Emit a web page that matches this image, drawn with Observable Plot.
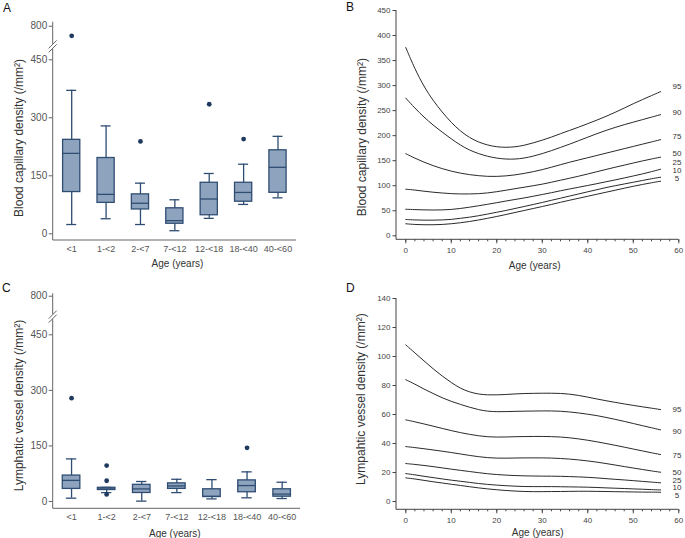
<!DOCTYPE html>
<html><head><meta charset="utf-8">
<script src="https://cdn.jsdelivr.net/npm/d3@7"></script>
<script src="https://cdn.jsdelivr.net/npm/@observablehq/plot@0.6"></script>
<style>
body{margin:0;background:#fff;}
#fig{position:relative;width:685px;height:538px;overflow:hidden;background:#fff;font-family:"Liberation Sans",Arial,sans-serif;}
#fig svg.p{position:absolute;}
.letter{position:absolute;font-size:12px;line-height:12px;color:#111;font-family:"Liberation Sans",Arial,sans-serif;}
</style></head><body>
<div id="fig">
  <div class="letter" style="left:3px;top:2px">A</div>
  <div class="letter" style="left:346px;top:1px">B</div>
  <div class="letter" style="left:2px;top:281.5px">C</div>
  <div class="letter" style="left:346px;top:282px">D</div>
</div>
<script>
// ---------- data ----------
const ageGroups = ["<1", "1-<2", "2-<7", "7-<12", "12-<18", "18-<40", "40-<60"];

// Panel A: blood capillary density box plots
const bloodLow    = [24, 39, 24, 8, 40, 76, 93];
const bloodQ1     = [108, 80, 63, 26, 48, 83, 106];
const bloodMedian = [208, 102, 79, 34, 90, 107, 172];
const bloodQ3     = [243, 196, 102, 66, 132, 132, 216];
const bloodHigh   = [371, 279, 131, 88, 156, 180, 252];
const bloodOutlierGroup = ["<1", "2-<7", "12-<18", "18-<40"];
const bloodOutlierValue = [700, 239, 335, 245];

// Panel C: lymphatic vessel density box plots
const lymphLow    = [9, 24, 1, 24, 7, 10, 8];
const lymphQ1     = [34, 31, 23, 34, 12, 25, 13];
const lymphMedian = [57, 34, 34, 42, 14, 43, 20];
const lymphQ3     = [70, 37, 45, 49, 33, 57, 33];
const lymphHigh   = [115, 38, 54, 60, 59, 80, 52];
const lymphOutlierGroup = ["<1", "1-<2", "1-<2", "1-<2", "18-<40"];
const lymphOutlierValue = [279, 97, 56, 19, 145];

const brokenTicks = [0, 150, 300, 450, 800];

// Panels B & D: percentile curves
const ages = [0,2,4,6,8,10,12,14,16,18,20,22,24,26,28,30,32,34,36,38,40,42,44,46,48,50,52,54,56];
const percentiles = ["95", "90", "75", "50", "25", "10", "5"];

const bloodP95 = [376,333,298,270,247,226,209,196,187,181,177.5,176.5,177.5,180.5,185.5,191,197,204,210.5,217,224,231,238.5,246.5,255,264,272,280,288];
const bloodP90 = [275,255,237,221,207,193.5,181,171,164,158.5,155,153,153,155,159,164,170,176.5,183,190,197,204,210.5,216.5,222,227,232,237,242];
const bloodP75 = [164,155,147,140,134,129,125,122,120,118.5,118.5,119.5,121.5,124.5,128,132,137,142,147,151.5,156,160.5,165,169.5,174,178.5,183,187.5,192];
const bloodP50 = [93,91.5,89,87,85.5,84,83.5,83.5,84,85.5,88,91,94,97,100,103,107,111,115,119,123.5,128,132.5,137,141,145.5,149.5,153.5,157];
const bloodP25 = [53,52.3,51.7,51.4,51.6,52.5,54.5,57,60,63,66,69.5,72.5,75.5,79,82.5,86,90,93.5,97,100.5,104,108,111.5,115.5,119.5,123.5,128,133];
const bloodP10 = [32.6,31.6,31.2,31.2,31.6,32.5,35,37,40,43.5,47,50.5,54.5,58.5,62.5,66.5,71,75,79.5,83.5,88,92,96.5,100,103.5,107,110.5,114,117];
const bloodP5  = [24,22.5,22,22,22.5,24,26,28.5,31.5,35,38.5,42.5,46.5,50.5,54.5,58.5,62.5,67,71,75,79,83,87,91,95,99,102.5,106,109];
const bloodLabelAt = [299, 247, 199, 164, 146, 131, 115];

const lymphP95 = [108,102.5,97,91.5,86.5,82,78,75.5,74,73.5,73.5,73.8,74.2,74.5,74.6,74.7,74.7,74.6,74.1,73.2,72,70.7,69.5,68.4,67.3,66.3,65.3,64.4,63.4];
const lymphP90 = [84,81,77.5,74.5,71.5,69,67,65,63.3,62.2,61.9,62,62.2,62.3,62.4,62.5,62.5,62.3,61.8,61.1,60.2,59.3,58,56.7,55.3,53.8,52.3,50.9,49.4];
const lymphP75 = [56.3,55,53.5,52,50.4,48.9,47.5,46.3,45.3,44.6,44.4,44.5,44.7,44.8,44.9,44.9,44.8,44.5,44,43.2,42.3,41.2,40,38.8,37.5,36.2,34.9,33.6,32.4];
const lymphP50 = [37.9,37.2,36.4,35.6,34.7,33.8,32.8,31.8,30.9,30.2,29.9,29.9,30,30.1,30.1,30.1,30,29.7,29.3,28.7,28,27.2,26.2,25.2,24.1,23.1,22.1,21.1,20.2];
const lymphP25 = [26.2,25.6,24.9,24.1,23.2,22.3,21.5,20.7,19.9,19.1,18.6,18.2,17.9,17.7,17.6,17.5,17.5,17.4,17.2,17,16.7,16.3,15.8,15.3,14.9,14.4,13.9,13.4,12.9];
const lymphP10 = [19.3,18.4,17.4,16.5,15.6,14.7,14,13.2,12.4,11.8,11.3,10.9,10.6,10.3,10.3,10.3,10.3,10.2,10.1,10,9.9,9.7,9.4,9.2,9,8.7,8.5,8.2,8];
const lymphP5  = [16.3,15.6,14.6,13.6,12.8,11.9,11.1,10.2,9.4,8.7,8.1,7.6,7.2,6.9,6.8,6.8,6.9,6.9,7,7.1,7.1,7,6.9,6.8,6.7,6.6,6.5,6.5,6.4];
const lymphLabelAt = [63.2, 48.5, 31.7, 20.2, 14.5, 9.9, 4.3];

// ---------- styles ----------
const FONT = '"Liberation Sans", Arial, sans-serif';
const BOX_FILL = "#8ea3bd", BOX_STROKE = "#2f4d73", DOT = "#1e3a5f";
const AXIS = "#666", TICKTEXT = "#555", TITLE = "#333";

function frameLines(color) {
  return (index, scales, values, d) => {
    const g = d3.create("svg:g");
    g.append("path")
      .attr("d", `M${d.marginLeft},${d.marginTop}V${d.height - d.marginBottom}H${d.width - d.marginRight}`)
      .attr("fill", "none").attr("stroke", color).attr("stroke-width", 1);
    return g.node();
  };
}
function breakMark(v) {
  return (index, scales, values, d) => {
    const x = d.marginLeft, y = scales.y(v);
    const g = d3.create("svg:g");
    g.append("rect").attr("x", x - 2).attr("y", y - 2.5).attr("width", 4).attr("height", 5).attr("fill", "#fff");
    for (const o of [-2, 2]) {
      g.append("line").attr("x1", x - 4).attr("y1", y + o + 4).attr("x2", x + 4).attr("y2", y + o - 4)
        .attr("stroke", AXIS).attr("stroke-width", 1);
    }
    return g.node();
  };
}
function titles(cfg) {
  return [
    Plot.text([cfg.ylabel], {text: d => d, frameAnchor: "left", textAnchor: "middle", lineAnchor: "middle",
      rotate: -90, dx: cfg.ylDx, dy: cfg.ylDy, fontSize: 12, fill: TITLE}),
    Plot.text(["Age (years)"], {text: d => d, frameAnchor: "bottom", textAnchor: "middle", lineAnchor: "middle",
      dx: cfg.xlDx, dy: cfg.xlDy, fontSize: 10, fill: TITLE})
  ];
}

function boxPanel(cfg) {
  const rows = ageGroups.map((g, i) => ({group: g, low: cfg.low[i], q1: cfg.q1[i], med: cfg.med[i], q3: cfg.q3[i], high: cfg.high[i]}));
  const outs = cfg.outG.map((g, i) => ({group: g, value: cfg.outV[i]}));
  const capInset = 3.6;
  return Plot.plot({
    width: cfg.width, height: cfg.height,
    marginLeft: cfg.mL, marginRight: cfg.mR, marginTop: cfg.mT, marginBottom: cfg.mB,
    style: {fontFamily: FONT, background: "transparent", overflow: "visible"},
    x: {type: "band", domain: ageGroups, paddingInner: 0.5, paddingOuter: cfg.padOuter, round: false},
    y: {type: "linear", domain: cfg.yDomain, range: cfg.yRange},
    marks: [
      Plot.ruleX(rows, {x: "group", y1: "low", y2: "high", stroke: BOX_STROKE, strokeWidth: 1.3}),
      Plot.tickY(rows, {x: "group", y: "low", stroke: BOX_STROKE, strokeWidth: 1.3, insetLeft: capInset, insetRight: capInset}),
      Plot.tickY(rows, {x: "group", y: "high", stroke: BOX_STROKE, strokeWidth: 1.3, insetLeft: capInset, insetRight: capInset}),
      Plot.barY(rows, {x: "group", y1: "q1", y2: "q3", fill: BOX_FILL, stroke: BOX_STROKE, strokeWidth: 1.3}),
      Plot.tickY(rows, {x: "group", y: "med", stroke: BOX_STROKE, strokeWidth: 1.3}),
      Plot.dot(outs, {x: "group", y: "value", r: 2.4, fill: DOT, stroke: null}),
      frameLines(AXIS),
      breakMark(cfg.breakAt),
      Plot.axisY(brokenTicks, {tickSize: 4, tickPadding: 2, fontSize: 10, color: AXIS, fill: TICKTEXT, label: null}),
      Plot.axisX({tickSize: 0, tickPadding: 5, fontSize: 9, fill: TICKTEXT, label: null}),
      ...titles(cfg)
    ]
  });
}

function curvePanel(cfg) {
  const rows = [];
  cfg.series.forEach((s, k) => s.forEach((v, i) => rows.push({pct: percentiles[k], age: ages[i], value: v})));
  const labels = percentiles.map((p, k) => ({pct: p, y: cfg.labelAt[k]}));
  return Plot.plot({
    width: cfg.width, height: cfg.height,
    marginLeft: cfg.mL, marginRight: cfg.mR, marginTop: cfg.mT, marginBottom: cfg.mB,
    style: {fontFamily: FONT, background: "transparent", overflow: "visible"},
    x: {type: "linear", domain: [-2.04, 60]},
    y: {type: "linear", domain: cfg.yDomain},
    marks: [
      Plot.line(rows, {x: "age", y: "value", z: "pct", stroke: "#2a2a2a", strokeWidth: 1, curve: "basis"}),
      Plot.text(labels, {x: () => 59.6, y: "y", text: "pct", fontSize: 8, fill: "#333"}),
      frameLines("#444"),
      Plot.axisY(cfg.yTicks, {tickSize: 3.5, tickPadding: 2.5, fontSize: 8, color: "#444", fill: "#444", label: null}),
      Plot.axisX(d3.range(0, 61, 10), {tickSize: 4, tickPadding: 4, fontSize: 8, color: "#444", fill: "#444", label: null}),
      Plot.axisX(d3.range(0, 61, 2), {tickSize: 2, tickFormat: () => "", color: "#444", label: null}),
      ...titles(cfg)
    ]
  });
}

const fig = document.getElementById("fig");
function place(svg, left, top) {
  svg.classList.add("p");
  svg.style.left = left + "px";
  svg.style.top = top + "px";
  svg.style.position = "absolute";
  fig.appendChild(svg);
}

place(boxPanel({
  low: bloodLow, q1: bloodQ1, med: bloodMedian, q3: bloodQ3, high: bloodHigh,
  outG: bloodOutlierGroup, outV: bloodOutlierValue,
  width: 340, height: 270, mL: 52.7, mR: 44, mT: 21.7, mB: 30, padOuter: 0.288,
  yDomain: [-17.3, 450, 842], yRange: [240, 59.3, 21.7], breakAt: 585,
  ylabel: "Blood capillary density (/mm²)", ylDx: -34.4, ylDy: 6.6, xlDx: 2.6, xlDy: 23
}), 0, 0);

place(boxPanel({
  low: lymphLow, q1: lymphQ1, med: lymphMedian, q3: lymphQ3, high: lymphHigh,
  outG: lymphOutlierGroup, outV: lymphOutlierValue,
  width: 340, height: 268, mL: 52.7, mR: 40, mT: 23.3, mB: 29.7, padOuter: 0.273,
  yDomain: [-19.7, 450, 822], yRange: [238.3, 64.3, 23.3], breakAt: 610,
  ylabel: "Lymphatic vessel density (/mm²)", ylDx: -34.4, ylDy: 4.2, xlDx: -2, xlDy: 25
}), 0, 270);

place(curvePanel({
  series: [bloodP95, bloodP90, bloodP75, bloodP50, bloodP25, bloodP10, bloodP5], labelAt: bloodLabelAt,
  width: 345, height: 270, mL: 56, mR: 6.7, mT: 10, mB: 30.7,
  yDomain: [-8, 450], yTicks: d3.range(0, 451, 50),
  ylabel: "Blood capillary density (/mm²)", ylDx: -34.3, ylDy: 12, xlDx: -3, xlDy: 25.7
}), 340, 0);

place(curvePanel({
  series: [lymphP95, lymphP90, lymphP75, lymphP50, lymphP25, lymphP10, lymphP5], labelAt: lymphLabelAt,
  width: 345, height: 268, mL: 56, mR: 6.7, mT: 28, mB: 28.7,
  yDomain: [-5.7, 140], yTicks: d3.range(0, 141, 20),
  ylabel: "Lympahtic vessel density (/mm²)", ylDx: -35, ylDy: -5, xlDx: 0, xlDy: 22.7
}), 340, 270);
</script>
</body></html>
